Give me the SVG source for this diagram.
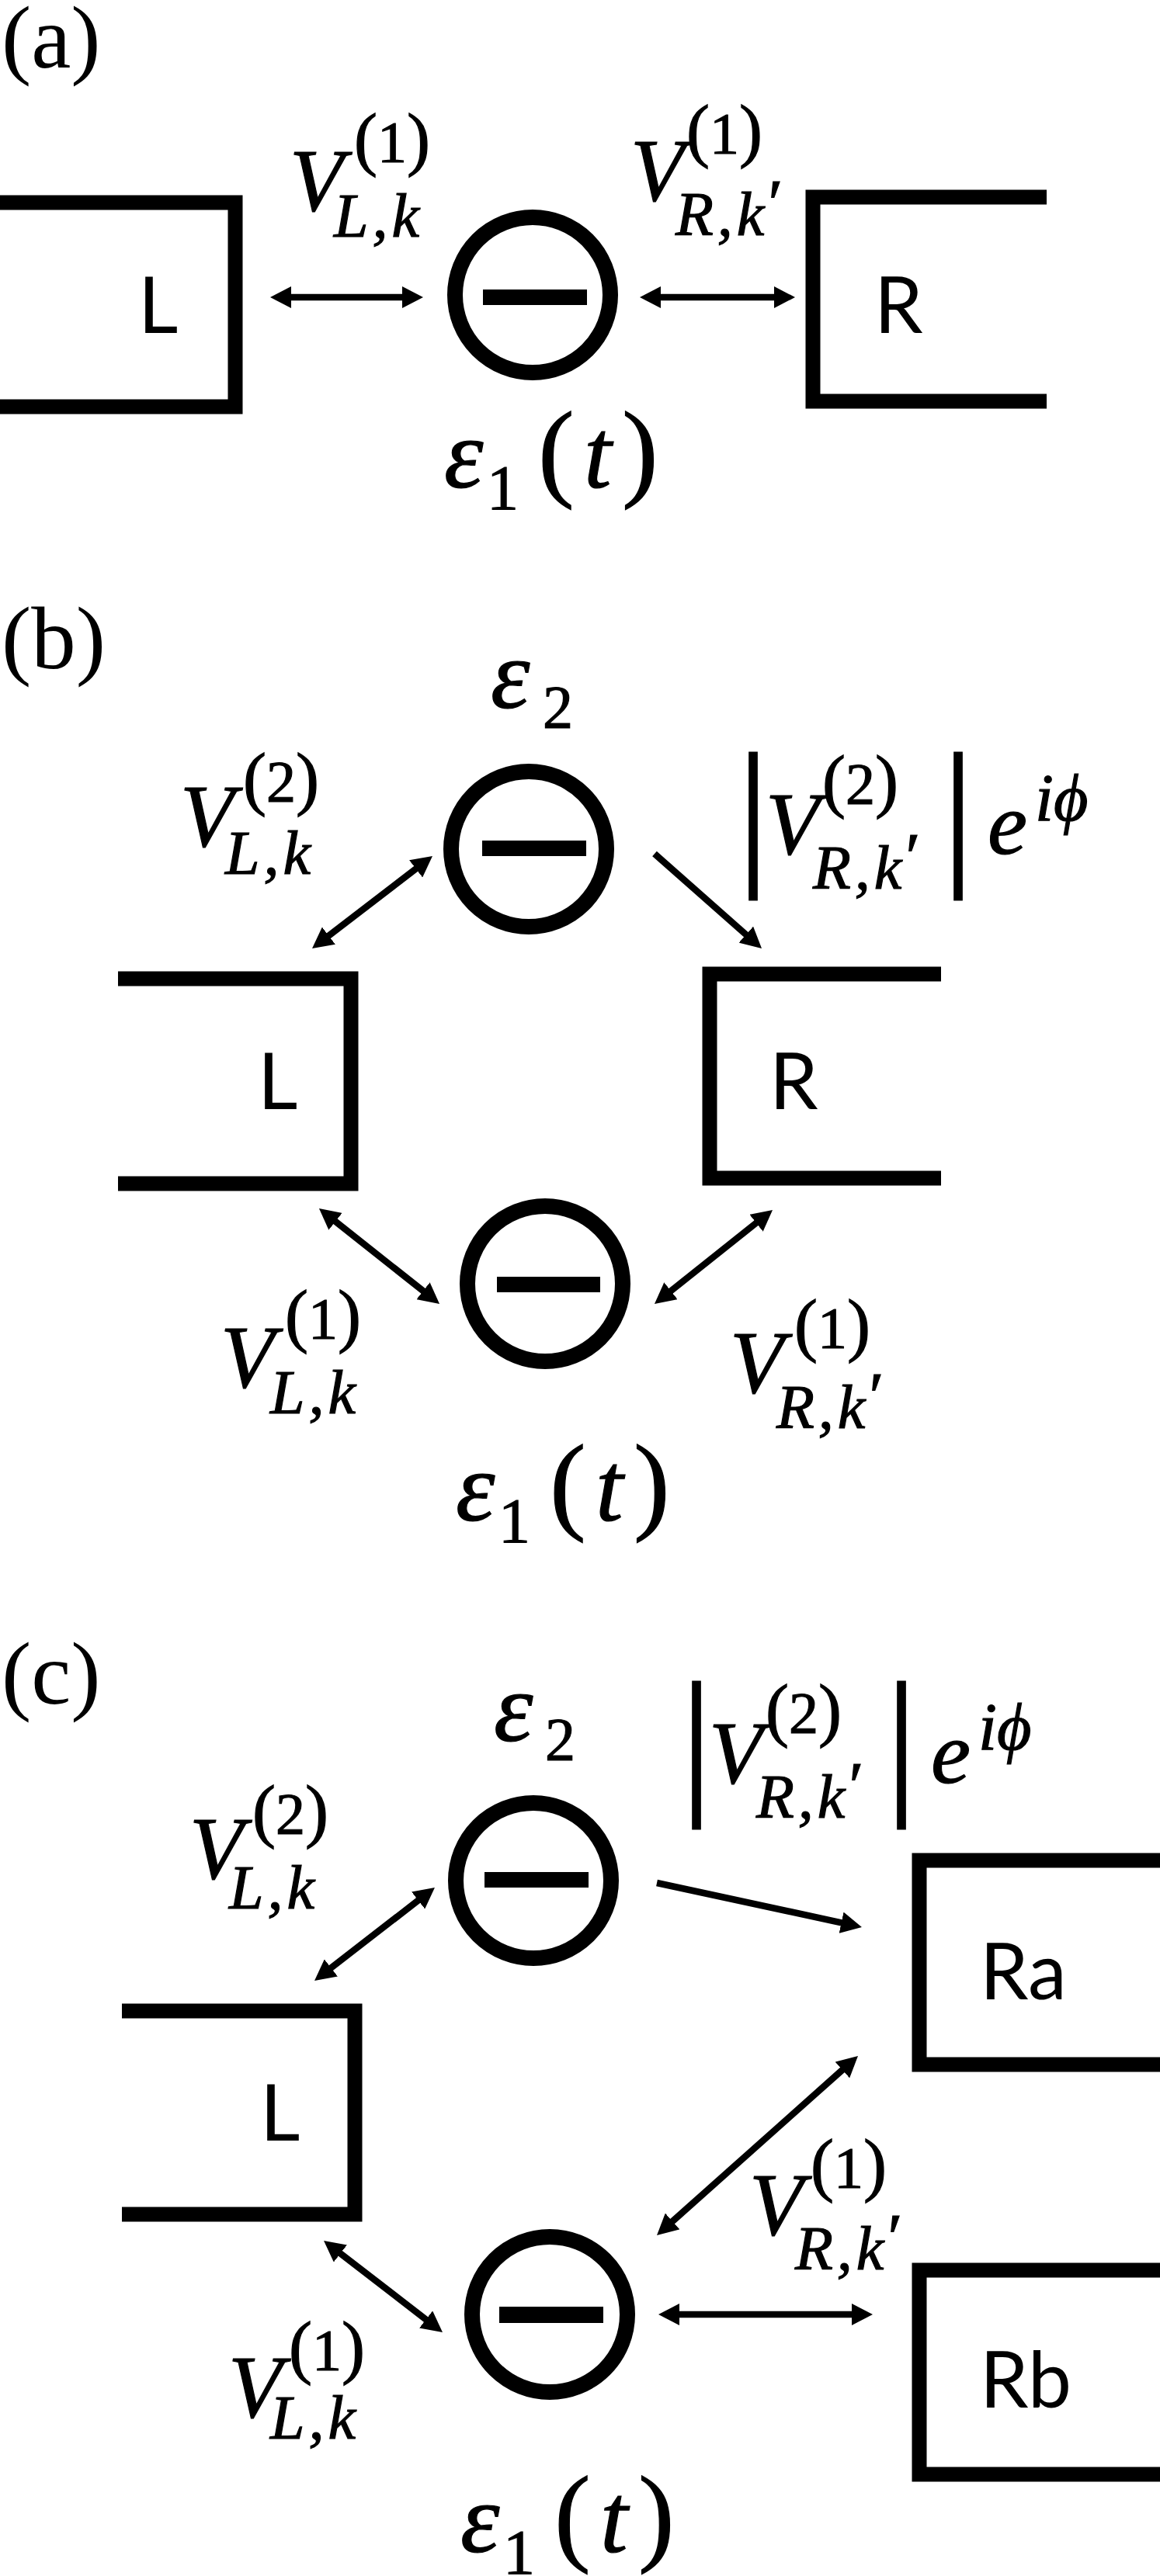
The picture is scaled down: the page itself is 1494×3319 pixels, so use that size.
<svg xmlns="http://www.w3.org/2000/svg" width="1494" height="3319" viewBox="0 0 1494 3319">
<style>
.br{fill:none;stroke:#000;stroke-width:19;stroke-linejoin:miter}
.ring{fill:#fff;stroke:#000;stroke-width:20}
.bar{fill:#000}
.cn{stroke:#000;stroke-width:8.5;fill:none}
text{fill:#000}
.m{font-family:"Liberation Serif","DejaVu Serif",serif;stroke:#000;stroke-width:1.2}
.i{font-style:italic}
.lbl{font-family:Lato,"Open Sans","Liberation Sans",sans-serif;font-size:100px}
.pl{font-family:"Liberation Serif",serif;font-size:115px}
</style>
<defs>
<marker id="ah" viewBox="0 0 27 28" refX="12" refY="14" markerWidth="27" markerHeight="28" markerUnits="userSpaceOnUse" orient="auto-start-reverse"><path d="M0,0 L27,14 L0,28 Z" fill="#000"/></marker>
<g id="eps1t">
<text class="m"><tspan class="i" x="572" y="628" font-size="128">ε</tspan><tspan x="627" y="656" font-size="82">1</tspan><tspan x="693" y="627" font-size="140">(</tspan><tspan class="i" x="752" y="628" font-size="128">t</tspan><tspan x="801" y="627" font-size="140">)</tspan></text>
</g>
</defs>

<!-- panel labels -->
<g id="panel-labels">
<text class="pl" x="2" y="87">(a)</text>
<text class="pl" x="2" y="861">(b)</text>
<text class="pl" x="2" y="2195">(c)</text>
</g>

<!-- ===== Panel (a) ===== -->
<g id="a-lead-L"><path class="br" d="M0,261 H303 V524 H0"/><text class="lbl" x="178" y="429">L</text></g>
<g id="a-lead-R"><path class="br" d="M1348,254 H1047 V517 H1348"/><text class="lbl" x="1126" y="429">R</text></g>
<g id="a-dot1"><circle class="ring" cx="686" cy="380" r="100"/><rect class="bar" x="622" y="373" width="134" height="20"/></g>
<g id="a-eps1"><use href="#eps1t"/></g>

<!-- ===== Panel (b) ===== -->
<g id="b-lead-L"><path class="br" d="M152,1261 H452 V1525 H152"/><text class="lbl" x="332" y="1429">L</text></g>
<g id="b-lead-R"><path class="br" d="M1212,1255 H914 V1518 H1212"/><text class="lbl" x="991" y="1429">R</text></g>
<g id="b-dot2"><circle class="ring" cx="681" cy="1094" r="100"/><rect class="bar" x="621" y="1083" width="134" height="20"/>
<text class="m"><tspan class="i" x="632" y="912" font-size="128">ε</tspan><tspan x="699" y="937" font-size="78">2</tspan></text></g>
<g id="b-dot1"><circle class="ring" cx="702" cy="1654" r="100"/><rect class="bar" x="640" y="1645" width="133" height="20"/></g>
<g id="b-eps1"><use href="#eps1t" transform="translate(15,1331)"/></g>

<!-- ===== Panel (c) ===== -->
<g id="c-lead-L"><path class="br" d="M157,2591 H457 V2853 H157"/><text class="lbl" x="335" y="2758">L</text></g>
<g id="c-lead-Ra"><path class="br" d="M1494,2397 H1184 V2660 H1494"/><text class="lbl" x="1262" y="2576">Ra</text></g>
<g id="c-lead-Rb"><path class="br" d="M1494,2925 H1184 V3188 H1494"/><text class="lbl" x="1262" y="3102">Rb</text></g>
<g id="c-dot2"><circle class="ring" cx="687" cy="2423" r="100"/><rect class="bar" x="624" y="2412" width="134" height="20"/>
<text class="m"><tspan class="i" x="636" y="2243" font-size="128">ε</tspan><tspan x="702" y="2267" font-size="78">2</tspan></text></g>
<g id="c-dot1"><circle class="ring" cx="708" cy="2982" r="100"/><rect class="bar" x="643" y="2972" width="134" height="21"/></g>
<g id="c-eps1"><use href="#eps1t" transform="translate(21,2660)"/></g>

<!-- ===== connectors ===== -->
<g id="connectors">
<line class="cn" x1="363" y1="383" x2="530" y2="383" marker-start="url(#ah)" marker-end="url(#ah)"/>
<line class="cn" x1="839" y1="383" x2="1009" y2="383" marker-start="url(#ah)" marker-end="url(#ah)"/>
<line class="cn" x1="413.9" y1="1212.9" x2="545.1" y2="1112.1" marker-start="url(#ah)" marker-end="url(#ah)"/>
<line class="cn" x1="843" y1="1100" x2="969.8" y2="1212.1" marker-end="url(#ah)"/>
<line class="cn" x1="422.7" y1="1566.3" x2="554.3" y2="1670.7" marker-start="url(#ah)" marker-end="url(#ah)"/>
<line class="cn" x1="983.3" y1="1568.3" x2="854.7" y2="1670.7" marker-start="url(#ah)" marker-end="url(#ah)"/>
<line class="cn" x1="416.9" y1="2542.8" x2="548.1" y2="2441.2" marker-start="url(#ah)" marker-end="url(#ah)"/>
<line class="cn" x1="846" y1="2426" x2="1095.3" y2="2479.8" marker-end="url(#ah)"/>
<line class="cn" x1="428.9" y1="2896.2" x2="558.1" y2="2995.8" marker-start="url(#ah)" marker-end="url(#ah)"/>
<line class="cn" x1="857.2" y1="2870" x2="1093.8" y2="2659" marker-start="url(#ah)" marker-end="url(#ah)"/>
<line class="cn" x1="863" y1="2982" x2="1109" y2="2982" marker-start="url(#ah)" marker-end="url(#ah)"/>
</g>

<!-- ===== connector labels ===== -->
<g id="a-lbl-VL1"><text class="m"><tspan class="i" x="373" y="271" font-size="114">V</tspan><tspan x="456" y="209" font-size="90">(</tspan><tspan font-size="76">1</tspan><tspan font-size="90">)</tspan><tspan class="i" x="430" y="305" font-size="80" letter-spacing="5">L,k</tspan></text></g>
<g id="a-lbl-VR1"><text class="m"><tspan class="i" x="812" y="258" font-size="114">V</tspan><tspan x="884" y="198" font-size="90">(</tspan><tspan font-size="76">1</tspan><tspan font-size="90">)</tspan><tspan class="i" x="870" y="303" font-size="80" letter-spacing="5">R,k</tspan><tspan dy="-12" font-size="86">′</tspan></text></g>

<g id="b-lbl-VL2"><text class="m"><tspan class="i" x="232" y="1090" font-size="114">V</tspan><tspan x="313" y="1033" font-size="90">(</tspan><tspan font-size="76">2</tspan><tspan font-size="90">)</tspan><tspan class="i" x="290" y="1126" font-size="80" letter-spacing="5">L,k</tspan></text></g>
<g id="b-lbl-VR2"><text class="m"><tspan x="949" y="1115" font-size="210">|</tspan><tspan class="i" x="986" y="1100" font-size="114">V</tspan><tspan x="1059" y="1036" font-size="90">(</tspan><tspan font-size="76">2</tspan><tspan font-size="90">)</tspan><tspan class="i" x="1047" y="1145" font-size="80" letter-spacing="5">R,k</tspan><tspan dy="-12" font-size="86">′</tspan><tspan x="1213" y="1115" font-size="210">|</tspan><tspan class="i" x="1272" y="1100" font-size="115">e</tspan><tspan class="i" x="1333" y="1057" font-size="86">iϕ</tspan></text></g>
<g id="b-lbl-VL1"><text class="m"><tspan class="i" x="284" y="1787" font-size="114">V</tspan><tspan x="367" y="1725" font-size="90">(</tspan><tspan font-size="76">1</tspan><tspan font-size="90">)</tspan><tspan class="i" x="348" y="1821" font-size="80" letter-spacing="5">L,k</tspan></text></g>
<g id="b-lbl-VR1"><text class="m"><tspan class="i" x="940" y="1794" font-size="114">V</tspan><tspan x="1023" y="1737" font-size="90">(</tspan><tspan font-size="76">1</tspan><tspan font-size="90">)</tspan><tspan class="i" x="1000" y="1840" font-size="80" letter-spacing="5">R,k</tspan><tspan dy="-12" font-size="86">′</tspan></text></g>

<g id="c-lbl-VL2"><text class="m"><tspan class="i" x="244" y="2420" font-size="114">V</tspan><tspan x="325" y="2363" font-size="90">(</tspan><tspan font-size="76">2</tspan><tspan font-size="90">)</tspan><tspan class="i" x="295" y="2459" font-size="80" letter-spacing="5">L,k</tspan></text></g>
<g id="c-lbl-VR2"><text class="m"><tspan x="876" y="2312" font-size="210">|</tspan><tspan class="i" x="913" y="2297" font-size="114">V</tspan><tspan x="986" y="2233" font-size="90">(</tspan><tspan font-size="76">2</tspan><tspan font-size="90">)</tspan><tspan class="i" x="974" y="2342" font-size="80" letter-spacing="5">R,k</tspan><tspan dy="-12" font-size="86">′</tspan><tspan x="1140" y="2312" font-size="210">|</tspan><tspan class="i" x="1199" y="2297" font-size="115">e</tspan><tspan class="i" x="1260" y="2254" font-size="86">iϕ</tspan></text></g>
<g id="c-lbl-VR1"><text class="m"><tspan class="i" x="965" y="2879" font-size="114">V</tspan><tspan x="1044" y="2819" font-size="90">(</tspan><tspan font-size="76">1</tspan><tspan font-size="90">)</tspan><tspan class="i" x="1024" y="2924" font-size="80" letter-spacing="5">R,k</tspan><tspan dy="-12" font-size="86">′</tspan></text></g>
<g id="c-lbl-VL1"><text class="m"><tspan class="i" x="294" y="3114" font-size="114">V</tspan><tspan x="372" y="3054" font-size="90">(</tspan><tspan font-size="76">1</tspan><tspan font-size="90">)</tspan><tspan class="i" x="348" y="3142" font-size="80" letter-spacing="5">L,k</tspan></text></g>
</svg>
